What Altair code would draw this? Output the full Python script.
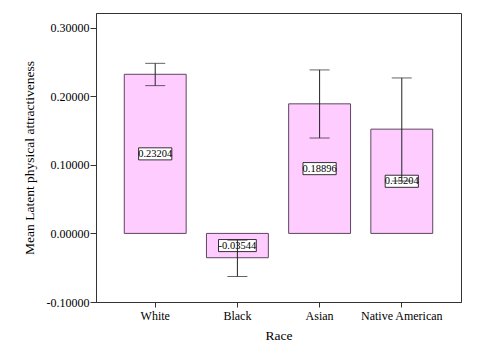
import altair as alt
import pandas as pd

races = ["White", "Black", "Asian", "Native American"]
means = [0.23204, -0.03544, 0.18896, 0.15204]
err_low = [0.2155, -0.0628, 0.1391, 0.0764]
err_high = [0.2480, -0.0098, 0.2384, 0.2267]
labels = ["0.23204", "-0.03544", "0.18896", "0.15204"]
y_ticks = [-0.1, 0.0, 0.1, 0.2, 0.3]

box_half = 0.0088  # half label-box height in data units (~12px)
df = pd.DataFrame({
    "race": races,
    "mean": means,
    "lo": err_low,
    "hi": err_high,
    "label": labels,
})
df["mid"] = df["mean"] / 2
df["b0"] = df["mid"] - box_half
df["b1"] = df["mid"] + box_half
df["bw"] = df["label"].str.len() * 4.6 + 1

FONT = "Liberation Serif"

x = alt.X(
    "race:N",
    sort=races,
    title="Race",
    scale=alt.Scale(paddingInner=0.247, paddingOuter=0.344),
    axis=alt.Axis(
        labelAngle=0, labelFont=FONT, labelFontSize=12, labelColor="black",
        titleFont=FONT, titleFontSize=13.5, titleFontWeight="normal", titleColor="black",
        tickSize=5, tickColor="#333", domainColor="#333", labelPadding=3, titlePadding=7,
    ),
)
yscale = alt.Scale(domain=[-0.1, 0.3214], nice=False, zero=False)
yaxis = alt.Axis(
    values=y_ticks,
    labelExpr="datum.value < 0 ? '-' + format(-datum.value, '.5f') : format(datum.value, '.5f')",
    grid=False,
    labelFont=FONT, labelFontSize=12, labelColor="black", labelPadding=1,
    titleFont=FONT, titleFontSize=13.5, titleFontWeight="normal", titleColor="black",
    tickSize=6, tickColor="#333", domainColor="#333", titlePadding=10,
)

base = alt.Chart(df)

bars = base.mark_bar(fill="#FFCCFF", stroke="#5e4660", strokeWidth=1).encode(
    x=x,
    y=alt.Y("mean:Q", scale=yscale, axis=yaxis, title="Mean Latent physical attractiveness"),
    y2=alt.datum(0),
)

boxes = base.mark_bar(fill="white", stroke="black", strokeWidth=0.8).encode(
    x=alt.X("race:N", sort=races),
    y=alt.Y("b0:Q"),
    y2="b1:Q",
    size=alt.Size("bw:Q", scale=None, legend=None),
)

texts = base.mark_text(font=FONT, fontSize=10.5, color="black", baseline="middle").encode(
    x=alt.X("race:N", sort=races),
    y=alt.Y("mid:Q"),
    text="label:N",
)

rules = base.mark_rule(color="#222", strokeWidth=1).encode(
    x=alt.X("race:N", sort=races),
    y=alt.Y("lo:Q"),
    y2="hi:Q",
)
cap_lo = base.mark_tick(color="#222", size=20, thickness=1).encode(
    x=alt.X("race:N", sort=races), y=alt.Y("lo:Q")
)
cap_hi = base.mark_tick(color="#222", size=20, thickness=1).encode(
    x=alt.X("race:N", sort=races), y=alt.Y("hi:Q")
)

chart = alt.layer(bars, boxes, texts, rules, cap_lo, cap_hi).properties(
    width=365,
    height=289,
    autosize=alt.AutoSizeParams(type="none"),
    padding={"left": 88, "top": 5, "right": 13, "bottom": 47},
    background="white",
).configure_view(stroke="#333", strokeWidth=1)

chart.save("out.html", embed_options={"renderer": "svg", "actions": False})
